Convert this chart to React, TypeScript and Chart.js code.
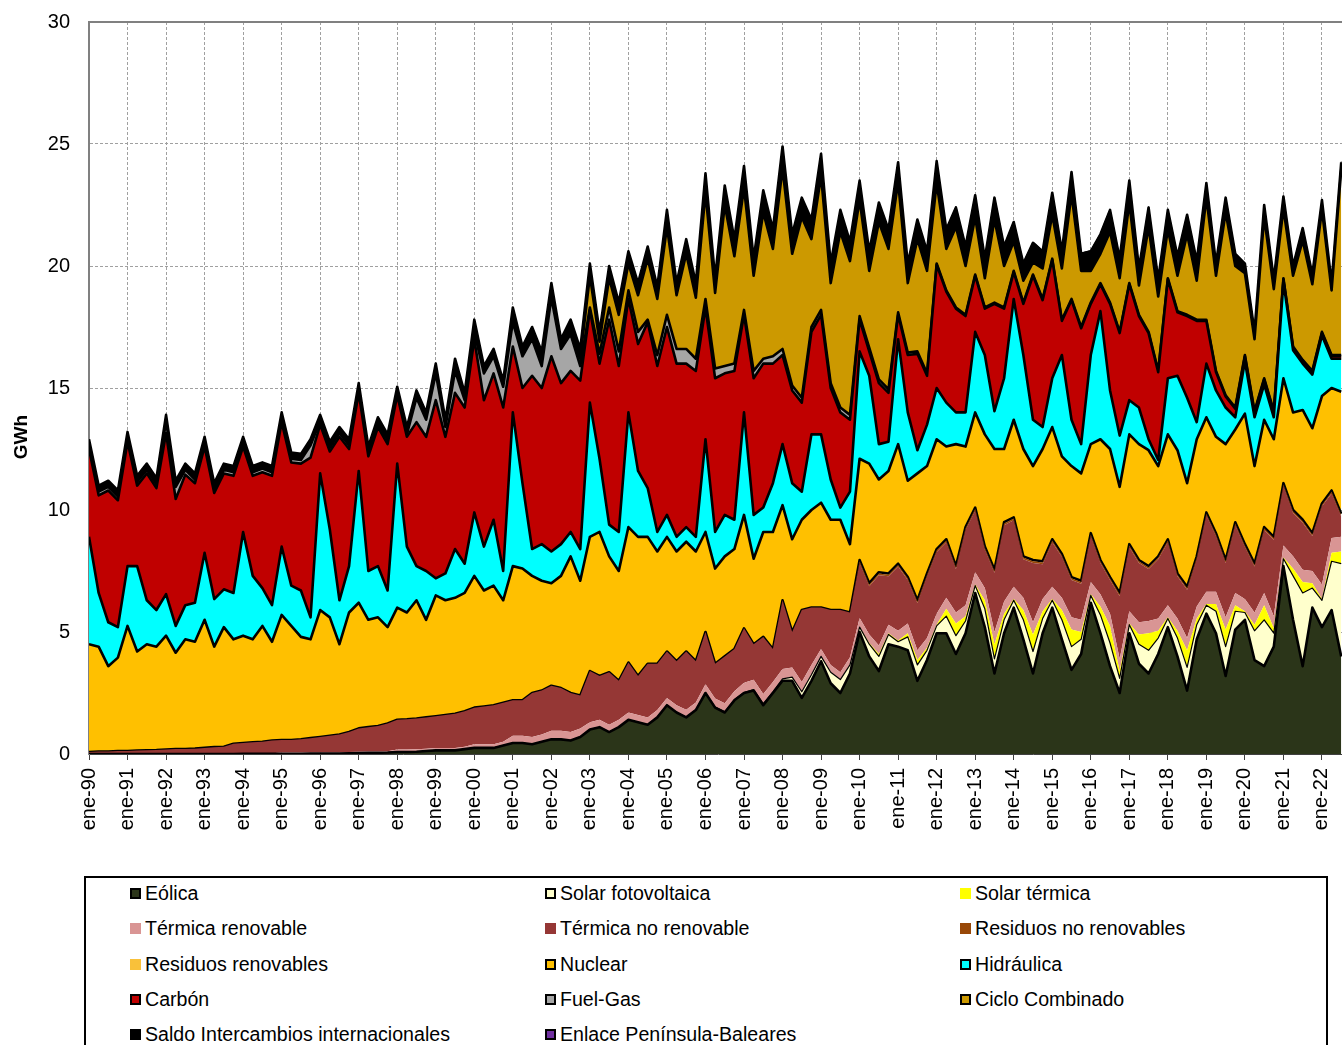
import React, { useEffect, useRef } from 'react';
import { Chart, registerables } from 'chart.js';

Chart.register(...registerables);

const FONT = "'Liberation Sans', Arial, Helvetica, sans-serif";

// One tick label per January
const yearTicks = [
  'ene-90', 'ene-91', 'ene-92', 'ene-93', 'ene-94', 'ene-95', 'ene-96', 'ene-97', 'ene-98', 'ene-99',
  'ene-00', 'ene-01', 'ene-02', 'ene-03', 'ene-04', 'ene-05', 'ene-06', 'ene-07', 'ene-08', 'ene-09',
  'ene-10', 'ene-11', 'ene-12', 'ene-13', 'ene-14', 'ene-15', 'ene-16', 'ene-17', 'ene-18', 'ene-19',
  'ene-20', 'ene-21', 'ene-22',
];

// Samples: ene, abr, jul, oct of each year (months counted from ene-90), up to jul-22
const sampleMonths: number[] = [];
for (let m = 0; m <= 390; m += 3) sampleMonths.push(m);

const eolica = [
  /*1990*/ 0, 0, 0, 0, /*1991*/ 0, 0, 0, 0, /*1992*/ 0, 0, 0, 0, /*1993*/ 0, 0, 0, 0,
  /*1994*/ 0.01, 0.01, 0.01, 0.01, /*1995*/ 0.01, 0.01, 0.01, 0.02,
  /*1996*/ 0.02, 0.02, 0.02, 0.03, /*1997*/ 0.04, 0.05, 0.05, 0.06,
  /*1998*/ 0.08, 0.08, 0.09, 0.12, /*1999*/ 0.15, 0.15, 0.15, 0.2,
  /*2000*/ 0.25, 0.25, 0.25, 0.35, /*2001*/ 0.45, 0.45, 0.4, 0.5,
  /*2002*/ 0.6, 0.6, 0.55, 0.7, /*2003*/ 1.0, 1.1, 0.9, 1.1,
  /*2004*/ 1.4, 1.3, 1.2, 1.5, /*2005*/ 2.0, 1.7, 1.5, 1.8,
  /*2006*/ 2.5, 1.9, 1.7, 2.2, /*2007*/ 2.5, 2.6, 2.0, 2.5,
  /*2008*/ 3.0, 3.0, 2.3, 3.0, /*2009*/ 3.8, 2.9, 2.5, 3.3,
  /*2010*/ 5.0, 4.0, 3.4, 4.5, /*2011*/ 4.4, 4.25, 3.0, 3.85,
  /*2012*/ 4.95, 4.95, 4.1, 4.95, /*2013*/ 6.6, 5.2, 3.3, 4.95,
  /*2014*/ 6.0, 4.7, 3.3, 4.95, /*2015*/ 6.0, 4.7, 3.45, 4.1,
  /*2016*/ 6.2, 4.95, 3.6, 2.5, /*2017*/ 4.95, 3.7, 3.3, 4.1,
  /*2018*/ 5.2, 4.0, 2.6, 4.7, /*2019*/ 5.75, 4.95, 3.2, 5.1,
  /*2020*/ 5.5, 3.85, 3.6, 4.4, /*2021*/ 7.7, 5.5, 3.6, 6.0,
  /*2022*/ 5.2, 5.9, 4.0,
];

const solarFV = [
  /*1990-1994*/ 0, 0, 0, 0, 0, 0, 0, 0, 0, 0, 0, 0, 0, 0, 0, 0, 0, 0, 0, 0,
  /*1995-1999*/ 0, 0, 0, 0, 0, 0, 0, 0, 0, 0, 0, 0, 0, 0, 0, 0, 0, 0, 0, 0,
  /*2000-2004*/ 0, 0, 0, 0, 0, 0, 0, 0, 0, 0, 0, 0, 0, 0, 0, 0, 0, 0, 0, 0,
  /*2005*/ 0, 0, 0.01, 0.01, /*2006*/ 0.01, 0.02, 0.03, 0.02,
  /*2007*/ 0.02, 0.04, 0.06, 0.05, /*2008*/ 0.08, 0.15, 0.25, 0.25,
  /*2009*/ 0.2, 0.45, 0.55, 0.35, /*2010*/ 0.2, 0.5, 0.6, 0.4,
  /*2011*/ 0.2, 0.55, 0.65, 0.4, /*2012*/ 0.3, 0.7, 0.75, 0.5,
  /*2013*/ 0.3, 0.75, 0.6, 0.55, /*2014*/ 0.3, 0.8, 0.9, 0.6,
  /*2015*/ 0.3, 0.8, 0.95, 0.6, /*2016*/ 0.3, 0.75, 0.95, 0.6,
  /*2017*/ 0.35, 0.8, 0.95, 0.65, /*2018*/ 0.35, 0.75, 0.95, 0.6,
  /*2019*/ 0.35, 0.9, 1.2, 0.75, /*2020*/ 0.3, 1.2, 1.9, 0.55,
  /*2021*/ 0.3, 1.8, 3.0, 0.8, /*2022*/ 1.1, 2.0, 3.8,
];

const solarTermica = [
  /*1990-1994*/ 0, 0, 0, 0, 0, 0, 0, 0, 0, 0, 0, 0, 0, 0, 0, 0, 0, 0, 0, 0,
  /*1995-1999*/ 0, 0, 0, 0, 0, 0, 0, 0, 0, 0, 0, 0, 0, 0, 0, 0, 0, 0, 0, 0,
  /*2000-2004*/ 0, 0, 0, 0, 0, 0, 0, 0, 0, 0, 0, 0, 0, 0, 0, 0, 0, 0, 0, 0,
  /*2005-2008*/ 0, 0, 0, 0, 0, 0, 0, 0, 0, 0, 0, 0, 0, 0, 0, 0,
  /*2009*/ 0, 0, 0, 0.02, /*2010*/ 0.02, 0.05, 0.1, 0.05,
  /*2011*/ 0.05, 0.15, 0.2, 0.1, /*2012*/ 0.05, 0.3, 0.5, 0.2,
  /*2013*/ 0.05, 0.35, 0.6, 0.25, /*2014*/ 0.05, 0.4, 0.7, 0.3,
  /*2015*/ 0.05, 0.4, 0.7, 0.3, /*2016*/ 0.05, 0.35, 0.7, 0.3,
  /*2017*/ 0.05, 0.4, 0.7, 0.3, /*2018*/ 0.05, 0.3, 0.7, 0.25,
  /*2019*/ 0.05, 0.3, 0.7, 0.25, /*2020*/ 0.05, 0.25, 0.6, 0.2,
  /*2021*/ 0.05, 0.3, 0.45, 0.2, /*2022*/ 0.05, 0.35, 0.5,
];

const termicaRenovable = [
  /*1990-1994*/ 0.02, 0.02, 0.02, 0.02, 0.02, 0.02, 0.02, 0.02, 0.02, 0.02, 0.02, 0.02, 0.02, 0.02, 0.02, 0.02, 0.02, 0.02, 0.02, 0.02,
  /*1995-1997*/ 0.05, 0.05, 0.05, 0.05, 0.05, 0.05, 0.05, 0.05, 0.05, 0.05, 0.05, 0.05,
  /*1998-1999*/ 0.1, 0.1, 0.1, 0.1, 0.1, 0.1, 0.1, 0.1,
  /*2000*/ 0.15, 0.15, 0.15, 0.15, /*2001*/ 0.3, 0.3, 0.3, 0.3, /*2002*/ 0.35, 0.35, 0.35, 0.35,
  /*2003-2005*/ 0.3, 0.3, 0.3, 0.3, 0.3, 0.3, 0.3, 0.3, 0.3, 0.3, 0.3, 0.3,
  /*2006*/ 0.35, 0.35, 0.35, 0.35, /*2007-2008*/ 0.4, 0.4, 0.4, 0.4, 0.4, 0.4, 0.4, 0.4,
  /*2009*/ 0.3, 0.3, 0.3, 0.3, /*2010*/ 0.35, 0.35, 0.35, 0.35, /*2011*/ 0.4, 0.4, 0.4, 0.4,
  /*2012*/ 0.45, 0.45, 0.45, 0.45,
  /*2013-2016*/ 0.5, 0.5, 0.5, 0.5, 0.5, 0.5, 0.5, 0.5, 0.5, 0.5, 0.5, 0.5, 0.5, 0.5, 0.5, 0.5,
  /*2017-2020*/ 0.5, 0.5, 0.5, 0.5, 0.5, 0.5, 0.5, 0.5, 0.5, 0.5, 0.5, 0.5, 0.5, 0.5, 0.5, 0.5,
  /*2021*/ 0.5, 0.5, 0.5, 0.5, /*2022*/ 0.6, 0.6, 0.6,
];

const termicaNoRenovable = [
  /*1990*/ 0.06, 0.08, 0.08, 0.1, /*1991*/ 0.1, 0.12, 0.13, 0.14,
  /*1992*/ 0.16, 0.18, 0.18, 0.2, /*1993*/ 0.23, 0.26, 0.28, 0.4,
  /*1994*/ 0.42, 0.45, 0.47, 0.52, /*1995*/ 0.51, 0.51, 0.54, 0.58,
  /*1996*/ 0.63, 0.68, 0.73, 0.82, /*1997*/ 0.96, 1.0, 1.05, 1.14,
  /*1998*/ 1.22, 1.24, 1.26, 1.28, /*1999*/ 1.3, 1.35, 1.4, 1.45,
  /*2000*/ 1.5, 1.55, 1.6, 1.6, /*2001*/ 1.45, 1.45, 1.8, 1.8,
  /*2002*/ 1.85, 1.75, 1.6, 1.35, /*2003*/ 2.1, 1.8, 2.15, 1.6,
  /*2004*/ 2.05, 1.6, 2.2, 1.9, /*2005*/ 1.9, 1.8, 2.39, 1.69,
  /*2006*/ 2.14, 1.43, 1.92, 1.73, /*2007*/ 2.23, 1.46, 2.34, 1.35,
  /*2008*/ 2.82, 1.45, 2.95, 2.35, /*2009*/ 1.7, 2.25, 2.55, 1.83,
  /*2010*/ 2.26, 1.98, 2.88, 1.98, /*2011*/ 2.63, 1.78, 1.93, 2.53,
  /*2012*/ 2.53, 2.28, 1.78, 3.08, /*2013*/ 2.53, 1.58, 2.43, 3.13,
  /*2014*/ 2.73, 1.58, 2.43, 1.43, /*2015*/ 1.83, 1.68, 1.53, 1.48,
  /*2016*/ 1.88, 1.28, 1.38, 2.58, /*2017*/ 2.63, 2.43, 2.13, 2.43,
  /*2018*/ 2.58, 1.73, 1.98, 1.93, /*2019*/ 3.13, 2.28, 2.23, 2.78,
  /*2020*/ 2.13, 1.88, 2.58, 3.13, /*2021*/ 2.43, 1.78, 1.93, 1.43,
  /*2022*/ 3.2, 1.83, 0.83,
];

const residuosNoRenovables = [
  /*1990-1994*/ 0, 0, 0, 0, 0, 0, 0, 0, 0, 0, 0, 0, 0, 0, 0, 0, 0, 0, 0, 0,
  /*1995-1999*/ 0, 0, 0, 0, 0, 0, 0, 0, 0, 0, 0, 0, 0, 0, 0, 0, 0, 0, 0, 0,
  /*2000-2004*/ 0, 0, 0, 0, 0, 0, 0, 0, 0, 0, 0, 0, 0, 0, 0, 0, 0, 0, 0, 0,
  /*2005-2009*/ 0, 0, 0, 0, 0, 0, 0, 0, 0, 0, 0, 0, 0, 0, 0, 0, 0, 0, 0, 0,
  /*2010-2014*/ 0.07, 0.07, 0.07, 0.07, 0.07, 0.07, 0.07, 0.07, 0.07, 0.07, 0.07, 0.07, 0.07, 0.07, 0.07, 0.07, 0.07, 0.07, 0.07, 0.07,
  /*2015-2019*/ 0.07, 0.07, 0.07, 0.07, 0.07, 0.07, 0.07, 0.07, 0.07, 0.07, 0.07, 0.07, 0.07, 0.07, 0.07, 0.07, 0.07, 0.07, 0.07, 0.07,
  /*2020-2022*/ 0.07, 0.07, 0.07, 0.07, 0.07, 0.07, 0.07, 0.07, 0.07, 0.07, 0.07,
];

const residuosRenovables = [
  /*1990-1994*/ 0, 0, 0, 0, 0, 0, 0, 0, 0, 0, 0, 0, 0, 0, 0, 0, 0, 0, 0, 0,
  /*1995-1999*/ 0, 0, 0, 0, 0, 0, 0, 0, 0, 0, 0, 0, 0, 0, 0, 0, 0, 0, 0, 0,
  /*2000-2004*/ 0, 0, 0, 0, 0, 0, 0, 0, 0, 0, 0, 0, 0, 0, 0, 0, 0, 0, 0, 0,
  /*2005-2009*/ 0, 0, 0, 0, 0, 0, 0, 0, 0, 0, 0, 0, 0, 0, 0, 0, 0, 0, 0, 0,
  /*2010-2014*/ 0.05, 0.05, 0.05, 0.05, 0.05, 0.05, 0.05, 0.05, 0.05, 0.05, 0.05, 0.05, 0.05, 0.05, 0.05, 0.05, 0.05, 0.05, 0.05, 0.05,
  /*2015-2019*/ 0.05, 0.05, 0.05, 0.05, 0.05, 0.05, 0.05, 0.05, 0.05, 0.05, 0.05, 0.05, 0.05, 0.05, 0.05, 0.05, 0.05, 0.05, 0.05, 0.05,
  /*2020-2022*/ 0.05, 0.05, 0.05, 0.05, 0.05, 0.05, 0.05, 0.05, 0.05, 0.05, 0.05,
];

const nuclear = [
  /*1990*/ 4.42, 4.3, 3.5, 3.83, /*1991*/ 5.13, 4.06, 4.35, 4.24,
  /*1992*/ 4.67, 3.95, 4.5, 4.38, /*1993*/ 5.25, 4.12, 4.9, 4.28,
  /*1994*/ 4.4, 4.22, 4.75, 4.05, /*1995*/ 5.13, 4.68, 4.2, 4.05,
  /*1996*/ 5.2, 4.85, 3.7, 4.9, /*1997*/ 5.15, 4.4, 4.45, 3.95,
  /*1998*/ 4.6, 4.38, 4.85, 4.0, /*1999*/ 4.95, 4.7, 4.75, 4.85,
  /*2000*/ 5.4, 4.75, 4.9, 4.2, /*2001*/ 5.5, 5.4, 4.8, 4.5,
  /*2002*/ 4.2, 4.6, 5.6, 4.7, /*2003*/ 5.5, 5.9, 4.75, 4.5,
  /*2004*/ 5.55, 5.7, 5.2, 4.6, /*2005*/ 4.7, 4.5, 4.5, 4.5,
  /*2006*/ 4.1, 3.9, 4.1, 4.1, /*2007*/ 4.65, 3.5, 4.3, 4.8,
  /*2008*/ 3.9, 3.8, 3.7, 4.0, /*2009*/ 4.3, 3.7, 3.7, 2.8,
  /*2010*/ 4.15, 4.9, 3.8, 4.2, /*2011*/ 4.9, 3.95, 5.2, 4.4,
  /*2012*/ 4.5, 3.8, 5.0, 3.3, /*2013*/ 3.9, 4.6, 4.95, 3.0,
  /*2014*/ 4.0, 4.4, 3.85, 4.6, /*2015*/ 4.6, 4.0, 4.55, 4.4,
  /*2016*/ 3.65, 4.95, 5.25, 4.35, /*2017*/ 4.5, 4.75, 4.75, 3.7,
  /*2018*/ 4.3, 5.05, 4.25, 4.8, /*2019*/ 3.9, 3.95, 4.75, 3.8,
  /*2020*/ 5.35, 4.0, 4.4, 4.0, /*2021*/ 4.3, 4.0, 4.5, 4.3,
  /*2022*/ 4.4, 4.2, 5.0,
];

const hidraulica = [
  /*1990*/ 4.4, 2.2, 1.8, 1.25, /*1991*/ 2.45, 3.5, 1.8, 1.5,
  /*1992*/ 1.7, 1.1, 1.4, 1.6, /*1993*/ 2.75, 1.95, 1.55, 1.9,
  /*1994*/ 4.25, 2.6, 1.55, 1.5, /*1995*/ 2.8, 1.65, 1.9, 0.9,
  /*1996*/ 5.6, 3.6, 1.8, 1.9, /*1997*/ 5.4, 2.0, 2.1, 1.5,
  /*1998*/ 5.9, 2.7, 1.4, 2.0, /*1999*/ 0.7, 1.1, 2.0, 1.2,
  /*2000*/ 2.6, 1.8, 2.7, 1.2, /*2001*/ 6.3, 3.5, 1.1, 1.5,
  /*2002*/ 1.3, 1.3, 1.0, 1.3, /*2003*/ 5.5, 3.0, 1.3, 1.6,
  /*2004*/ 4.7, 2.7, 2.0, 0.8, /*2005*/ 0.9, 0.6, 0.6, 0.6,
  /*2006*/ 3.8, 1.5, 1.7, 1.2, /*2007*/ 4.2, 1.8, 1.0, 2.0,
  /*2008*/ 2.5, 2.3, 1.15, 3.1, /*2009*/ 2.8, 1.65, 0.5, 2.15,
  /*2010*/ 4.4, 3.6, 1.45, 1.2, /*2011*/ 4.3, 2.8, 0.95, 1.7,
  /*2012*/ 2.1, 1.8, 1.3, 1.4, /*2013*/ 3.3, 3.25, 1.55, 2.9,
  /*2014*/ 4.95, 3.85, 1.9, 0.9, /*2015*/ 2.0, 4.15, 1.9, 1.2,
  /*2016*/ 3.65, 5.25, 2.4, 2.1, /*2017*/ 1.4, 1.5, 0.45, 0.25,
  /*2018*/ 2.3, 3.05, 3.5, 0.7, /*2019*/ 2.2, 1.9, 1.5, 0.5,
  /*2020*/ 2.15, 2.0, 1.45, 0.9, /*2021*/ 3.95, 2.55, 1.9, 2.2,
  /*2022*/ 2.48, 1.2, 1.35,
];

const carbon = [
  /*1990*/ 3.6, 4.0, 5.4, 5.2, /*1991*/ 5.1, 3.3, 5.2, 5.0,
  /*1992*/ 6.6, 5.2, 5.35, 4.9, /*1993*/ 4.35, 4.35, 4.75, 4.8,
  /*1994*/ 3.5, 4.1, 4.75, 5.3, /*1995*/ 5.1, 5.05, 5.2, 6.55,
  /*1996*/ 2.0, 3.2, 6.7, 4.8, /*1997*/ 3.2, 4.7, 5.7, 6.0,
  /*1998*/ 2.8, 4.5, 5.9, 5.5, /*1999*/ 7.3, 5.6, 6.4, 6.4,
  /*2000*/ 7.1, 6.0, 6.0, 6.7, /*2001*/ 2.7, 3.9, 7.1, 6.4,
  /*2002*/ 8.0, 6.6, 6.6, 6.9, /*2003*/ 3.8, 3.9, 8.4, 6.8,
  /*2004*/ 4.65, 5.2, 6.8, 6.8, /*2005*/ 7.7, 7.1, 6.7, 6.8,
  /*2006*/ 5.4, 6.3, 5.8, 6.1, /*2007*/ 4.0, 5.6, 5.9, 4.9,
  /*2008*/ 3.65, 3.8, 3.65, 4.2, /*2009*/ 4.9, 3.75, 3.9, 2.95,
  /*2010*/ 1.3, 1.0, 2.5, 2.0, /*2011*/ 1.0, 2.35, 3.95, 2.0,
  /*2012*/ 5.05, 4.55, 4.25, 3.95, /*2013*/ 2.3, 1.9, 4.4, 2.85,
  /*2014*/ 1.1, 2.1, 5.9, 5.2, /*2015*/ 4.85, 1.4, 4.9, 4.75,
  /*2016*/ 2.1, 1.1, 3.55, 4.2, /*2017*/ 4.75, 3.75, 4.35, 3.6,
  /*2018*/ 4.05, 2.6, 3.35, 4.15, /*2019*/ 1.75, 0.75, 0.45, 0.35,
  /*2020*/ 0.2, 0.2, 0.2, 0.2, /*2021*/ 0.1, 0.1, 0.1, 0.1,
  /*2022*/ 0.1, 0.1, 0.1,
];

const fuelGas = [
  /*1990*/ 0.15, 0.15, 0.15, 0.15, /*1991*/ 0.15, 0.15, 0.15, 0.15,
  /*1992*/ 0.5, 0.5, 0.2, 0.15, /*1993*/ 0.15, 0.15, 0.15, 0.15,
  /*1994*/ 0.15, 0.15, 0.15, 0.15, /*1995*/ 0.15, 0.15, 0.15, 0.5,
  /*1996*/ 0.15, 0.15, 0.15, 0.15, /*1997*/ 0.15, 0.15, 0.15, 0.15,
  /*1998*/ 0.15, 0.1, 1.0, 0.7, /*1999*/ 1.1, 0.4, 0.9, 0.3,
  /*2000*/ 0.3, 1.1, 0.7, 0.85, /*2001*/ 1.0, 1.3, 1.5, 0.9,
  /*2002*/ 2.4, 1.4, 1.5, 0.6, /*2003*/ 0.1, 0.4, 0.5, 0.6,
  /*2004*/ 0.35, 0.5, 0.1, 0.45, /*2005*/ 0.5, 0.6, 0.6, 0.5,
  /*2006*/ 0.35, 0.4, 0.3, 0.3, /*2007*/ 0.2, 0.3, 0.2, 0.3,
  /*2008*/ 0.25, 0.2, 0.2, 0.2, /*2009*/ 0.2, 0.2, 0.2, 0.2,
  /*2010*/ 0.15, 0.15, 0.15, 0.15, /*2011*/ 0.1, 0.1, 0.1, 0.1,
  /*2012-2016*/ 0.05, 0.05, 0.05, 0.05, 0.05, 0.05, 0.05, 0.05, 0.05, 0.05, 0.05, 0.05, 0.05, 0.05, 0.05, 0.05, 0.05, 0.05, 0.05, 0.05,
  /*2017-2021*/ 0.05, 0.05, 0.05, 0.05, 0.05, 0.05, 0.05, 0.05, 0.05, 0.05, 0.05, 0.05, 0.05, 0.05, 0.05, 0.05, 0.05, 0.05, 0.05, 0.05,
  /*2022*/ 0.05, 0.05, 0.05,
];

const cicloCombinado = [
  /*1990-1994*/ 0, 0, 0, 0, 0, 0, 0, 0, 0, 0, 0, 0, 0, 0, 0, 0, 0, 0, 0, 0,
  /*1995-1999*/ 0, 0, 0, 0, 0, 0, 0, 0, 0, 0, 0, 0, 0, 0, 0, 0, 0, 0, 0, 0,
  /*2000-2001*/ 0, 0, 0, 0, 0, 0, 0, 0,
  /*2002*/ 0, 0, 0, 0.3, /*2003*/ 1.3, 0.5, 1.2, 1.5,
  /*2004*/ 1.1, 1.5, 2.5, 2.3, /*2005*/ 3.6, 2.2, 3.9, 2.5,
  /*2006*/ 4.35, 3.1, 6.6, 4.4, /*2007*/ 5.0, 3.9, 6.0, 4.4,
  /*2008*/ 7.4, 5.4, 7.4, 3.6, /*2009*/ 5.5, 4.1, 7.2, 6.3,
  /*2010*/ 4.75, 3.15, 6.45, 5.75, /*2011*/ 5.35, 2.85, 4.6, 4.2,
  /*2012*/ 3.3, 1.7, 3.3, 2.0, /*2013*/ 2.35, 1.2, 3.4, 1.7,
  /*2014*/ 1.2, 0.9, 0.5, 1.25, /*2015*/ 1.8, 2.1, 4.3, 2.3,
  /*2016*/ 1.3, 1.2, 2.9, 2.2, /*2017*/ 3.3, 1.2, 4.3, 3.05,
  /*2018*/ 2.0, 1.45, 3.3, 1.6, /*2019*/ 5.0, 3.9, 7.5, 5.8,
  /*2020*/ 3.35, 2.95, 6.6, 5.0, /*2021*/ 2.85, 2.9, 4.9, 3.55,
  /*2022*/ 5.0, 2.65, 7.6,
];

const saldoIntercambios = [
  /*1990-1993*/ 0.25, 0.25, 0.25, 0.25, 0.25, 0.25, 0.25, 0.25, 0.25, 0.25, 0.25, 0.25, 0.25, 0.25, 0.25, 0.25,
  /*1994-1997*/ 0.25, 0.25, 0.25, 0.25, 0.25, 0.25, 0.25, 0.25, 0.25, 0.25, 0.25, 0.25, 0.25, 0.25, 0.25, 0.25,
  /*1998*/ 0.2, 0.3, 0.3, 0.3, /*1999*/ 0.4, 0.3, 0.5, 0.3,
  /*2000*/ 0.5, 0.3, 0.3, 0.25, /*2001*/ 0.6, 0.4, 0.5, 0.6,
  /*2002*/ 0.6, 0.4, 0.6, 0.4, /*2003*/ 0.5, 0.4, 0.5, 0.5,
  /*2004*/ 0.5, 0.5, 0.5, 0.5, /*2005*/ 0.7, 0.5, 0.6, 0.6,
  /*2006*/ 0.8, 0.6, 0.8, 0.7, /*2007*/ 0.9, 0.7, 0.9, 0.8,
  /*2008*/ 0.9, 0.8, 0.8, 0.8, /*2009*/ 0.9, 0.8, 0.9, 0.8,
  /*2010*/ 0.8, 0.8, 0.8, 0.8, /*2011*/ 0.8, 0.8, 0.8, 0.8,
  /*2012*/ 0.9, 0.8, 0.8, 0.8, /*2013*/ 0.9, 0.8, 0.9, 0.8,
  /*2014*/ 0.8, 0.7, 0.8, 0.7, /*2015*/ 0.9, 0.7, 0.9, 0.7,
  /*2016*/ 0.8, 0.8, 0.9, 0.8, /*2017*/ 0.9, 0.7, 0.8, 0.7,
  /*2018*/ 0.8, 0.8, 0.8, 0.8, /*2019*/ 0.6, 0.5, 0.6, 0.5,
  /*2020*/ 0.4, 0.3, 0.5, 0.4, /*2021*/ 0.5, 0.4, 0.5, 0.4,
  /*2022*/ 0.4, 0.3, 0.3,
];

const enlaceBaleares = [
  /*1990-1994*/ 0, 0, 0, 0, 0, 0, 0, 0, 0, 0, 0, 0, 0, 0, 0, 0, 0, 0, 0, 0,
  /*1995-1999*/ 0, 0, 0, 0, 0, 0, 0, 0, 0, 0, 0, 0, 0, 0, 0, 0, 0, 0, 0, 0,
  /*2000-2004*/ 0, 0, 0, 0, 0, 0, 0, 0, 0, 0, 0, 0, 0, 0, 0, 0, 0, 0, 0, 0,
  /*2005-2009*/ 0, 0, 0, 0, 0, 0, 0, 0, 0, 0, 0, 0, 0, 0, 0, 0, 0, 0, 0, 0,
  /*2010-2011*/ 0, 0, 0, 0, 0, 0, 0, 0,
  /*2012*/ 0, 0, 0.03, 0.03,
  /*2013-2017*/ 0.03, 0.03, 0.03, 0.03, 0.03, 0.03, 0.03, 0.03, 0.03, 0.03, 0.03, 0.03, 0.03, 0.03, 0.03, 0.03, 0.03, 0.03, 0.03, 0.03,
  /*2018-2022*/ 0.03, 0.03, 0.03, 0.03, 0.03, 0.03, 0.03, 0.03, 0.03, 0.03, 0.03, 0.03, 0.03, 0.03, 0.03, 0.03, 0.03, 0.03, 0.03,
];

type Serie = { label: string; data: number[]; fill: string; line: string; width: number; box: boolean };

const LW = 2.6;

const SERIES: Serie[] = [
  { label: 'Eólica', data: eolica, fill: '#2B3519', line: '#000000', width: LW, box: true },
  { label: 'Solar fotovoltaica', data: solarFV, fill: '#FFFFCC', line: '#000000', width: 1.2, box: true },
  { label: 'Solar térmica', data: solarTermica, fill: '#FFFF00', line: '#FFFF00', width: 0, box: false },
  { label: 'Térmica renovable', data: termicaRenovable, fill: '#D99594', line: '#D99594', width: 0, box: false },
  { label: 'Térmica no renovable', data: termicaNoRenovable, fill: '#953735', line: '#953735', width: 0, box: false },
  { label: 'Residuos no renovables', data: residuosNoRenovables, fill: '#984807', line: '#984807', width: 0, box: false },
  { label: 'Residuos renovables', data: residuosRenovables, fill: '#F9C13A', line: '#000000', width: LW, box: false },
  { label: 'Nuclear', data: nuclear, fill: '#FFC000', line: '#000000', width: LW, box: true },
  { label: 'Hidráulica', data: hidraulica, fill: '#00FFFF', line: '#000000', width: LW, box: true },
  { label: 'Carbón', data: carbon, fill: '#C00000', line: '#000000', width: LW, box: true },
  { label: 'Fuel-Gas', data: fuelGas, fill: '#A6A6A6', line: '#000000', width: LW, box: true },
  { label: 'Ciclo Combinado', data: cicloCombinado, fill: '#CC9900', line: '#000000', width: LW, box: true },
  { label: 'Saldo Intercambios internacionales', data: saldoIntercambios, fill: '#000000', line: '#000000', width: LW, box: false },
  { label: 'Enlace Península-Baleares', data: enlaceBaleares, fill: '#7030A0', line: '#000000', width: 1, box: true },
];

const LEGEND_ROWS = [
  ['Eólica', 'Solar fotovoltaica', 'Solar térmica'],
  ['Térmica renovable', 'Térmica no renovable', 'Residuos no renovables'],
  ['Residuos renovables', 'Nuclear', 'Hidráulica'],
  ['Carbón', 'Fuel-Gas', 'Ciclo Combinado'],
  ['Saldo Intercambios internacionales', 'Enlace Península-Baleares'],
];

const extrasPlugin = {
  id: 'extras',
  afterDraw(chart: any) {
    const { ctx, chartArea } = chart;
    ctx.save();
    ctx.strokeStyle = '#808080';
    ctx.lineWidth = 2;
    ctx.beginPath();
    ctx.moveTo(chartArea.left - 1, chartArea.top);
    ctx.lineTo(chartArea.right + 4, chartArea.top);
    ctx.stroke();
    ctx.translate(22, 437);
    ctx.rotate(-Math.PI / 2);
    ctx.fillStyle = '#000';
    ctx.font = `bold 19px ${FONT}`;
    ctx.textAlign = 'center';
    ctx.textBaseline = 'middle';
    ctx.fillText('GWh', 0, 0);
    ctx.restore();
  },
};

export default function App() {
  const canvasRef = useRef<HTMLCanvasElement | null>(null);

  useEffect(() => {
    if (!canvasRef.current) return;
    Chart.defaults.font.family = FONT;
    const datasets = SERIES.map((s, i) => ({
      label: s.label,
      data: sampleMonths.map((m, j) => ({ x: m, y: s.data[j] })),
      backgroundColor: s.fill,
      borderColor: s.line,
      borderWidth: s.width,
      fill: i === 0 ? 'origin' : '-1',
      pointRadius: 0,
      pointHoverRadius: 0,
      tension: 0,
      borderJoinStyle: 'round' as const,
    }));
    const chart = new Chart(canvasRef.current, {
      type: 'line',
      data: { datasets },
      options: {
        animation: false,
        responsive: false,
        maintainAspectRatio: false,
        layout: { padding: { top: 22, right: 2, left: 0, bottom: 0 } },
        plugins: { legend: { display: false }, tooltip: { enabled: false } },
        events: [],
        scales: {
          x: {
            type: 'linear',
            min: 0,
            max: 392,
            bounds: 'data',
            afterBuildTicks: (scale: any) => {
              scale.ticks = yearTicks.map((_, i) => ({ value: i * 12 }));
            },
            afterFit: (scale: any) => {
              scale.height = 96;
            },
            ticks: {
              autoSkip: false,
              maxRotation: 90,
              minRotation: 90,
              padding: 8,
              color: '#000',
              font: { size: 20, family: FONT },
              callback: (value: any) => yearTicks[Math.round(Number(value) / 12)] ?? '',
            },
            grid: {
              color: '#A0A0A0',
              lineWidth: 1,
              drawTicks: true,
              tickLength: 6,
              tickColor: '#404040',
              tickWidth: 1,
            },
            border: { display: true, color: '#404040', width: 1, dash: [3, 2] },
          },
          y: {
            stacked: true,
            min: 0,
            max: 30,
            afterFit: (scale: any) => {
              scale.width = 89;
            },
            ticks: {
              stepSize: 5,
              padding: 3,
              color: '#000',
              font: { size: 20, family: FONT },
            },
            grid: {
              color: '#A0A0A0',
              lineWidth: 1,
              drawTicks: true,
              tickLength: 16,
              tickColor: 'rgba(0,0,0,0)',
            },
            border: { display: true, color: '#808080', width: 2, dash: [3, 2] },
          },
        },
      } as any,
      plugins: [extrasPlugin],
    });
    return () => chart.destroy();
  }, []);

  const colX = [130, 545, 960];
  const rowY = [893, 928, 964, 999, 1034];

  return (
    <div
      style={{
        position: 'fixed',
        left: 0,
        top: 0,
        width: 1342,
        height: 1045,
        overflow: 'hidden',
        background: '#fff',
        fontFamily: FONT,
      }}
    >
      <canvas
        ref={canvasRef}
        width={1354}
        height={850}
        style={{ position: 'absolute', left: 0, top: 0, width: 1354, height: 850 }}
      />
      <div
        style={{
          position: 'absolute',
          left: 84,
          top: 876,
          width: 1244,
          height: 190,
          border: '2px solid #000',
          boxSizing: 'border-box',
        }}
      />
      {LEGEND_ROWS.map((row, r) =>
        row.map((name, c) => {
          const s = SERIES.find((x) => x.label === name)!;
          return (
            <div
              key={name}
              style={{
                position: 'absolute',
                left: colX[c],
                top: rowY[r] - 12,
                height: 24,
                display: 'flex',
                alignItems: 'center',
                whiteSpace: 'nowrap',
              }}
            >
              <span
                style={{
                  display: 'inline-block',
                  width: 11,
                  height: 11,
                  boxSizing: 'border-box',
                  background: s.fill,
                  border: s.box ? '2px solid #000' : 'none',
                  marginRight: 4,
                }}
              />
              <span style={{ fontSize: 19.6, color: '#000', lineHeight: '24px' }}>{name}</span>
            </div>
          );
        })
      )}
    </div>
  );
}
